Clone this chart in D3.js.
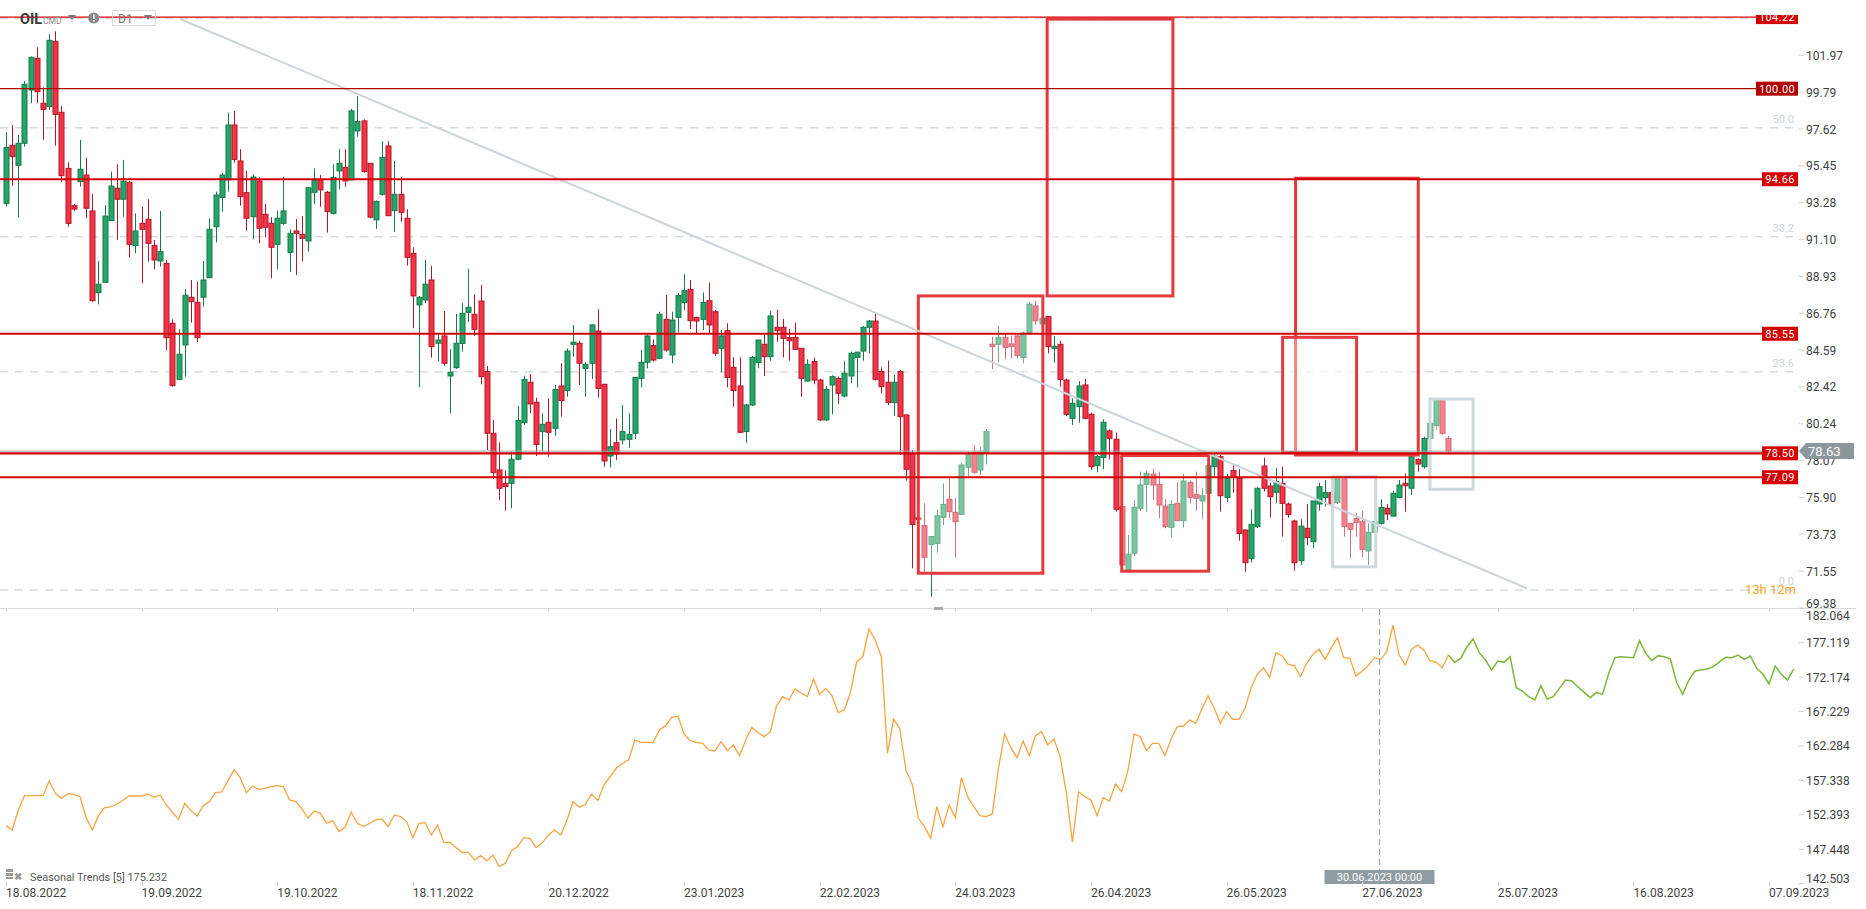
<!DOCTYPE html>
<html><head><meta charset="utf-8">
<script src="https://cdn.jsdelivr.net/npm/d3@7"></script>
<style>
html,body{margin:0;padding:0;background:#fff;overflow:hidden;}
svg{display:block;font-family:Roboto,"Noto Sans",sans-serif;}
</style></head><body>
<svg id="chart" width="1866" height="909"></svg>
<script>
// ---------------- DATA ----------------
const openP = [93.24,96.66,95.48,96.78,99.92,101.79,99.14,98.94,102.79,98.61,95.30,93.1,94.52,94.91,92.79,87.97,88.58,92.22,94.13,93.48,
94.48,90.75,92.06,92.30,90.75,89.84,89.70,86.17,82.86,84.89,87.70,87.40,87.70,88.86,91.86,93.58,94.62,97.86,95.74,93.87,
92.45,94.56,92.59,92.06,90.82,92.06,90.35,91.61,91.41,91.02,93.89,94.62,93.89,92.65,95.15,95.36,94.62,97.51,98.10,95.60,
92.26,93.77,96.62,92.81,93.77,92.36,90.29,87.25,87.54,88.72,84.99,85.42,83.06,83.55,84.98,86.81,86.70,87.48,83.32,79.68,
77.52,76.73,76.73,78.15,80.31,82.69,81.51,79.78,80.33,79.97,82.47,82.20,84.93,84.99,83.51,83.81,85.71,82.57,78.34,79.13,
79.29,79.33,79.68,82.92,83.87,84.85,84.10,86.40,84.30,86.52,87.40,88.17,86.52,86.40,87.50,86.85,84.69,85.73,83.57,82.47,
79.78,81.35,83.85,84.93,84.20,85.93,85.93,85.32,85.34,84.69,82.76,83.91,82.82,80.47,82.53,82.92,81.88,83.06,84.16,84.53,
85.93,86.30,83.32,82.69,81.49,83.32,80.76,78.44,74.7,74.24,73.13,73.19,74.73,75.79,75.02,74.90,77.68,78.54,77.52,78.54,
84.93,84.93,85.34,84.95,85.42,84.14,85.58,87.19,86.13,86.56,84.69,84.93,82.82,80.56,81.25,82.53,80.80,77.77,78.26,79.82,
79.33,75.36,71.62,72.61,75.26,76.67,77.28,76.67,75.39,74.14,75.55,74.53,76.79,76.08,75.69,76.14,77.71,78.30,75.90,77.48,
77.03,73.98,72.31,74.18,77.75,76.57,76.20,76.73,75.51,74.51,72.17,74.08,73.29,75.51,75.90,76.18,75.61,76.99,74.37,74.67,
74.47,72.74,73.84,74.37,75.26,74.80,75.90,76.73,76.44,78.14,77.71,79.38,80.13,81.64,79.38];
const highP = [97.43,97.86,97.27,100.45,101.9,102.44,100.08,103.22,103.38,98.98,95.66,93.2,96.98,95.91,93.79,89.84,93.14,95.11,95.54,95.80,
94.56,92.65,93.04,93.48,91.08,92.79,89.90,86.40,85.81,88.17,88.72,88.62,89.84,92.36,93.93,95.01,98.59,98.69,96.44,95.15,
94.95,94.77,93.20,92.42,92.81,94.81,91.71,92.32,92.49,94.2,95.30,94.91,93.97,95.54,96.44,96.44,98.80,99.57,98.19,95.6,
93.4,96.91,96.91,95.74,94.77,92.89,90.65,87.78,89.90,89.55,85.48,86.89,84.65,86.72,87.35,89.37,87.88,88.43,83.65,80.47,
79.15,77.48,78.60,81.29,83.08,83.18,81.78,80.86,81.74,82.53,83.81,84.69,86.07,85.14,83.87,86.1,86.99,82.6,79.94,80.56,
81.35,80.86,83.0,84.59,85.5,85.22,86.85,87.84,86.85,87.94,89.06,88.72,86.55,87.99,88.58,86.95,85.77,86.17,84.16,84.16,
81.41,84.24,85.2,85.48,86.89,86.95,86.42,85.83,86.20,84.7,84.04,84.14,82.9,82.47,83.1,83.02,83.96,84.50,84.5,86.0,
86.36,86.72,83.57,83.96,83.12,83.4,80.8,78.70,74.9,75.55,73.6,75.20,76.73,77.03,75.85,77.95,78.60,78.99,78.89,79.92,
85.38,86.01,85.48,85.44,85.54,85.67,87.44,87.48,86.6,86.6,85.42,85.12,82.9,81.74,82.76,82.88,80.9,78.4,80.50,79.9,
79.72,75.5,73.69,75.75,77.42,77.46,77.58,77.42,75.79,75.75,76.79,77.28,76.9,77.42,76.44,77.8,78.54,78.40,77.28,77.81,
77.56,74.0,75.20,76.5,78.24,76.77,77.65,77.71,75.6,74.6,74.61,75.51,75.7,76.77,76.93,76.2,77.0,77.0,74.4,74.96,
75.10,74.37,74.5,75.79,75.51,76.30,76.93,77.32,78.50,78.2,79.48,80.3,81.7,81.7,79.52];
const lowP = [93.04,94.28,92.40,96.58,99.14,99.14,96.98,98.74,96.64,94.48,91.87,92.8,94.22,92.36,87.44,87.29,88.58,92.22,91.08,92.45,
90.04,90.29,88.52,89.80,89.35,89.51,84.59,82.43,82.82,83.02,86.21,85.05,87.15,88.82,90.94,92.75,93.93,95.64,93.10,91.63,
91.12,90.88,91.24,88.82,89.35,91.96,89.21,89.01,89.80,90.39,93.20,93.04,91.51,92.59,94.07,94.22,94.6,97.17,95.05,92.36,
91.73,93.69,92.5,91.57,92.16,89.57,85.87,82.39,87.34,84.14,83.91,83.67,80.86,83.47,84.50,86.26,85.42,82.57,78.70,76.97,
75.75,75.12,75.26,78.1,80.17,80.86,78.34,78.64,78.30,79.54,80.66,81.84,84.2,82.53,81.84,82.88,81.78,77.72,77.66,78.11,
79.03,78.83,79.33,82.39,83.51,83.91,84.06,84.50,83.81,85.62,86.95,85.83,85.58,85.77,85.58,84.24,83.26,82.39,81.25,79.7,
79.13,81.29,83.51,83.06,83.96,85.08,84.16,83.96,84.6,81.84,82.73,82.57,80.4,80.4,80.80,81.41,81.8,82.63,82.39,83.96,
84.40,82.8,82.04,81.35,80.72,78.40,76.89,71.72,74.5,71.52,70.05,72.64,74.27,74.67,72.37,74.9,77.13,77.3,77.22,77.85,
83.47,83.87,84.04,84.1,84.10,83.81,85.5,86.07,86.0,84.40,83.85,82.43,80.7,80.17,80.31,80.5,77.52,77.38,77.56,78.15,
75.06,71.8,71.5,72.45,75.10,75.06,75.75,74.67,74.08,73.55,74.5,74.12,75.55,75.12,74.61,76.1,77.06,75.06,75.65,76.18,
73.35,71.52,72.05,74.1,76.24,74.71,75.55,73.59,74.71,71.58,71.92,73.09,72.90,75.12,75.36,75.4,75.51,73.59,72.31,73.59,
72.37,71.92,73.8,74.3,74.57,74.76,75.85,75.06,76.04,77.42,77.6,79.29,79.88,79.6,78.46];
const closeP = [96.54,95.99,96.78,100.26,101.85,99.82,98.78,102.85,98.49,94.87,92.06,92.9,95.25,92.95,87.50,88.47,92.49,94.26,93.48,94.54,
90.82,91.61,91.71,90.88,89.90,90.39,85.32,82.49,84.34,87.82,87.44,85.32,88.72,91.71,93.73,94.91,97.86,95.83,93.63,92.36,
94.79,91.77,91.83,90.65,92.36,92.79,91.47,91.47,91.18,94.16,94.62,94.03,92.75,94.77,95.60,94.56,98.69,98.06,95.11,92.42,
93.36,95.95,92.51,93.77,92.71,90.06,87.78,87.70,88.47,84.79,85.18,83.81,83.28,84.99,86.75,87.11,85.81,83.02,79.68,77.36,
76.44,76.54,78.15,80.43,82.86,81.41,79.03,80.21,79.74,82.27,81.61,84.53,85.05,83.81,83.75,86.07,82.33,78.05,78.89,78.46,
79.78,79.62,82.98,83.87,85.42,84.00,86.70,84.59,86.36,87.80,88.09,86.32,86.30,87.40,86.07,84.40,85.42,82.98,82.20,79.74,
81.35,84.16,85.18,84.20,86.60,85.73,85.28,85.14,84.63,82.92,83.75,82.82,80.47,82.27,83.02,82.04,83.22,84.40,84.46,85.93,
86.30,82.86,82.43,81.49,82.69,80.66,77.56,74.31,74.6,72.37,73.59,74.82,75.49,75.06,74.47,77.81,78.40,77.38,78.56,79.78,
84.79,85.34,84.75,84.79,84.26,85.58,87.30,86.32,86.46,84.79,84.81,82.86,80.80,81.45,82.47,80.56,77.71,78.30,80.33,79.39,
75.20,71.92,72.55,75.32,76.63,77.32,76.63,75.45,74.18,75.49,74.53,76.87,75.90,75.85,76.00,77.77,78.34,76.00,77.06,77.08,
73.78,72.05,74.31,76.44,76.44,75.94,76.83,75.55,74.90,72.05,74.21,73.53,75.69,76.53,76.18,75.51,76.99,74.18,74.02,74.41,
72.84,73.84,74.47,75.31,74.92,76.14,76.63,76.59,78.30,77.87,79.38,80.27,81.64,79.68,78.63];

const priceTicks = [69.38,71.55,73.73,75.90,78.07,80.24,82.42,84.59,86.76,88.93,91.10,93.28,95.45,97.62,99.79,101.97];
const levelValues = [104.22,100.00,94.66,85.55,78.50,77.09];
const levelLabels = ["104.22","100.00","94.66","85.55","78.50","77.09"];
const fibPercent = [0,23.6,38.2,50.0,61.8];
const fibLabels = ["0.0","23.6","38.2","50.0",""];
const fibZeroPrice = 70.44, fibHundredPrice = 124.96;
const currentPrice = 78.63;
const trendIdx = [28.23, 246.8];
const trendPrice = [104.11, 70.53];
// drawn boxes: [start bar, end bar, top price, bottom price]
const boxStart  = [168.9, 148.0, 181.0, 209.2, 207.1, 215.2, 231.0];
const boxEnd    = [189.3, 168.2, 195.1, 229.1, 219.1, 222.2, 238.0];
const boxTop    = [104.1, 87.78, 78.37, 94.72, 85.34, 77.12, 81.70];
const boxBottom = [87.78, 71.43, 71.55, 78.40, 78.54, 71.81, 76.38];
const boxKind   = ["red","red","red","red","red","grey","grey"];

const dateTickIdx = [0,22,44,66,88,110,132,154,176,198,220,242,264,286];
const dateLabels = ["18.08.2022","19.09.2022","19.10.2022","18.11.2022","20.12.2022","23.01.2023","22.02.2023",
  "24.03.2023","26.04.2023","26.05.2023","27.06.2023","25.07.2023","16.08.2023","07.09.2023"];

const seasonalTicks = [142.503,147.448,152.393,157.338,162.284,167.229,172.174,177.119,182.064];
const seasonalIdx = [0,1,2,3,4,5,6,7,8,9,10,11,12,13,14,15,16,17,18,19,20,22,23,24,25,26,27,28,29,30,
31,32,33,34,35,36,37,38,39,40,41,42,43,44,45,46,47,48,49,50,51,52,53,54,55,56,57,58,59,60,
61,62,63,64,65,66,67,68,69,70,71,72,73,74,75,76,77,78,79,80,81,82,83,84,85,86,87,88,89,90,
91,92,93,94,95,96,97,98,99,100,101,102,103,104,105,106,107,108,109,110,111,112,113,114,115,116,117,118,119,120,
121,122,123,124,125,126,127,128,129,130,131,132,133,134,135,136,137,138,139,140,141,142,143,144,145,146,147,148,149,150,
151,152,153,154,155,156,157,158,159,160,161,162,163,164,165,166,167,168,169,170,171,172,173,174,175,176,177,178,179,180,
181,182,183,184,185,186,187,188,189,190,191,192,193,194,195,196,197,198,199,200,201,202,203,204,205,206,207,208,209,210,
211,212,213,214,215,216,217,218,219,220,221,222,223,224,225,226,227,228,229,230,231,232,233,234,235,236,237,238,239,240,
241,242,243,244,245,246,247,248,249,250,251,252,253,254,255,256,257,258,259,260,261,262,264,265,266,267,268,269,270,
271,272,273,274,275,276,277,278,279,280,281,282,283,284,285,286,287,288,289,290];
const seasonalVal = [150.83,150.21,153.08,155.14,155.14,155.14,155.14,157.25,155.48,154.76,155.43,155.33,155.00,151.98,150.21,152.27,153.42,153.56,153.90,154.52,155.09,155.09,155.38,154.90,155.24,153.80,152.75,151.74,154.04,152.99,
152.22,153.71,154.28,155.57,155.67,157.30,158.88,157.73,155.57,156.53,156.05,156.20,156.44,156.58,156.44,154.52,154.28,153.23,151.89,152.94,152.60,151.17,151.55,149.97,150.59,152.75,151.17,150.69,151.17,151.65,
151.79,150.69,152.37,152.13,151.41,149.11,151.17,151.26,149.49,150.93,148.44,148.44,147.67,147.00,147.00,145.90,146.52,145.80,146.62,144.94,145.42,147.24,147.82,149.11,149.01,147.67,148.39,149.49,150.21,149.49,
151.65,154.28,153.47,153.90,155.38,154.42,156.67,157.87,159.07,159.79,160.27,163.14,162.81,162.81,162.81,164.58,165.20,166.40,166.59,164.00,163.05,162.81,162.66,161.70,161.56,162.90,161.61,162.42,160.89,163.14,
164.96,164.19,163.62,164.34,168.07,169.37,168.89,170.47,169.85,169.37,171.90,169.70,170.56,169.51,167.07,167.45,169.99,174.39,175.11,179.09,177.51,175.11,161.23,166.15,164.72,158.73,156.82,151.89,150.69,149.01,
153.56,150.69,153.80,151.98,157.73,155.00,153.56,152.27,152.13,152.51,159.07,164.00,162.04,160.60,163.00,160.89,163.76,164.34,162.42,163.28,160.75,155.62,148.44,155.72,155.00,154.52,152.27,154.86,154.38,156.82,
155.72,158.73,164.00,163.62,161.61,162.66,162.66,160.89,163.28,165.06,165.15,166.01,165.54,167.60,169.46,167.69,165.54,167.21,166.11,166.11,167.69,170.66,172.62,173.53,172.14,175.69,175.26,174.01,173.82,172.24,
174.16,175.45,176.17,174.73,176.41,177.84,174.97,174.87,172.33,173.05,173.82,174.97,174.73,175.83,179.66,175.35,173.92,176.17,176.79,176.07,174.54,174.30,173.53,175.35,174.30,174.87,176.55,177.65,175.69,174.63,
173.20,174.49,174.30,175.11,170.66,170.18,169.37,168.89,170.95,169.03,169.37,170.56,171.76,171.62,170.80,169.99,169.22,169.99,169.70,172.71,174.97,175.11,174.97,177.41,175.59,174.54,175.26,175.11,174.78,
171.43,169.70,171.76,173.05,173.20,173.34,173.68,174.39,175.02,174.97,175.35,174.73,175.21,173.44,172.62,171.19,173.77,172.57,171.76,173.34];
const lastBarIdx = 234;
const crosshairIdx = 222.7;
const crosshairLabel = "30.06.2023 00:00";
const legendText = "Seasonal  Trends  [5]  175.232";
const countdownText = "13h 12m";

// ---------------- SCALES ----------------
const svg = d3.select("#chart");
const x = d3.scaleLinear().domain([0, 286]).range([6, 1769]);
const y = d3.scaleLinear().domain([69.38, 101.97]).range([608.0, 55.26]);
const ys = d3.scaleLinear().domain([142.503, 182.064]).range([883.6, 608.3]);

const GREEN_F = "#26a46a", GREEN_S = "#157a48", RED_F = "#f23444", RED_S = "#b3172a";

const defs = svg.append("defs");
defs.append("clipPath").attr("id","plotclip")
  .append("rect").attr("x",0).attr("y",13).attr("width",1800).attr("height",595);
defs.append("clipPath").attr("id","labelclip")
  .append("rect").attr("x",0).attr("y",15).attr("width",1800).attr("height",593);

const plot = svg.append("g").attr("clip-path","url(#plotclip)");

// fib dashed lines
const fibPrice = p => fibZeroPrice + (fibHundredPrice - fibZeroPrice) * p / 100;
plot.selectAll(".fib").data(fibPercent).enter().append("line")
  .attr("x1",0).attr("x2",1797)
  .attr("y1",d=>y(fibPrice(d))).attr("y2",d=>y(fibPrice(d)))
  .attr("stroke","#d3dce1").attr("stroke-width",1.6).attr("stroke-dasharray","8,7");

// candles
const candles = d3.range(openP.length).map(i=>({i,o:openP[i],h:highP[i],l:lowP[i],c:closeP[i]}));
const cg = plot.append("g");
candles.forEach(d=>{
  const up = d.c >= d.o;
  const cx = Math.round(x(d.i)) + 0.5;
  cg.append("line").attr("x1",cx).attr("x2",cx).attr("y1",y(d.h)).attr("y2",y(d.l))
    .attr("stroke", up?GREEN_S:RED_S).attr("stroke-width",1);
  const top = y(Math.max(d.o,d.c)), bot = y(Math.min(d.o,d.c));
  cg.append("rect").attr("x",cx-2.5).attr("width",5).attr("y",top).attr("height",Math.max(1,bot-top))
    .attr("fill", up?GREEN_F:RED_F).attr("stroke", up?GREEN_S:RED_S).attr("stroke-width",1);
});

// boxes
boxStart.forEach((s,k)=>{
  const x0 = x(s), x1 = x(boxEnd[k]), y0 = y(boxTop[k]), y1 = y(boxBottom[k]);
  plot.append("rect").attr("x",x0).attr("y",y0).attr("width",x1-x0).attr("height",y1-y0)
    .attr("fill","rgba(255,255,255,0.38)")
    .attr("stroke", boxKind[k]==="red" ? "#e5393b" : "#cfd8dc").attr("stroke-width",3);
});

// trend line
plot.append("line").attr("x1",x(trendIdx[0])).attr("y1",y(trendPrice[0]))
  .attr("x2",x(trendIdx[1])).attr("y2",y(trendPrice[1]))
  .attr("stroke","#cbd5da").attr("stroke-width",2);

// current price line
plot.append("line").attr("x1",0).attr("x2",1799).attr("y1",y(currentPrice)).attr("y2",y(currentPrice))
  .attr("stroke","#9aa4a9").attr("stroke-width",1);

// level lines
levelValues.forEach((v,k)=>{
  const dark = k===1, thin = k<=1;
  const w = levelLabels[k].length>5 ? 42 : 36;
  plot.append("line").attr("x1",0).attr("x2",1798-w).attr("y1",y(v)).attr("y2",y(v))
    .attr("stroke", dark ? "#b00000" : "#d40000").attr("stroke-width", thin?1.3:2.2);
});

// fib labels
plot.selectAll(".fibl").data(fibPercent.filter((d,i)=>fibLabels[i])).enter().append("text")
  .attr("x",1794).attr("y",d=>y(fibPrice(d))-5).attr("text-anchor","end")
  .attr("font-size",11).attr("fill","#cdd5da").text(d=>fibLabels[fibPercent.indexOf(d)]);

// countdown
svg.append("text").attr("x",1796).attr("y",y(fibPrice(0))+4).attr("text-anchor","end")
  .attr("font-size",13).attr("fill","#f5a525").text(countdownText);

// level labels
const lg = svg.append("g").attr("clip-path","url(#labelclip)");
levelValues.forEach((v,k)=>{
  const w = levelLabels[k].length>5 ? 42 : 36;
  const col = k===1 ? "#b00000" : "#d40000";
  lg.append("rect").attr("x",1798-w).attr("y",y(v)-7).attr("width",w).attr("height",14).attr("fill",col);
  lg.append("text").attr("x",1798-w/2).attr("y",y(v)+4).attr("text-anchor","middle")
    .attr("font-size",11).attr("fill","#fff").attr("letter-spacing",0.4).text(levelLabels[k]);
});

// price axis
priceTicks.forEach(t=>{
  const yy = Math.min(y(t), 603);
  svg.append("line").attr("x1",1799).attr("x2",1804).attr("y1",y(t)).attr("y2",y(t)).attr("stroke","#d0d0d0");
  svg.append("text").attr("x",1806).attr("y",yy+4.5).attr("font-size",12).attr("fill","#3f3f3f")
    .text(t.toFixed(2));
});

// current price label
const cy = y(currentPrice);
svg.append("path").attr("d",`M1799,${cy} L1806,${cy-8} L1854,${cy-8} L1854,${cy+8} L1806,${cy+8} Z`).attr("fill","#8c979c");
svg.append("text").attr("x",1808).attr("y",cy+5).attr("font-size",13).attr("fill","#fff").text(currentPrice.toFixed(2));

// separator
svg.append("line").attr("x1",0).attr("x2",1856).attr("y1",608.5).attr("y2",608.5).attr("stroke","#dcdcdc");
svg.append("rect").attr("x",934).attr("y",607).attr("width",9).attr("height",3).attr("fill","#a9a9a9");

// seasonal axis
seasonalTicks.forEach(t=>{
  const yy = Math.max(615, Math.min(ys(t), 878));
  svg.append("line").attr("x1",1799).attr("x2",1804).attr("y1",ys(t)).attr("y2",ys(t)).attr("stroke","#d0d0d0");
  svg.append("text").attr("x",1806).attr("y",yy+4.5).attr("font-size",12).attr("fill","#3f3f3f").text(t.toFixed(3));
});

// seasonal line
const sPts = seasonalIdx.map((d,i)=>({i:d,v:seasonalVal[i]}));
const sLine = d3.line().x(d=>x(d.i)).y(d=>ys(d.v));
svg.append("path").datum(sPts.filter(d=>d.i<=lastBarIdx)).attr("d",sLine)
  .attr("fill","none").attr("stroke","#f7a440").attr("stroke-width",1.3);
svg.append("path").datum(sPts.filter(d=>d.i>=lastBarIdx)).attr("d",sLine)
  .attr("fill","none").attr("stroke","#7cb73b").attr("stroke-width",1.5);

// crosshair
const chx = Math.round(x(crosshairIdx))+0.5;
svg.append("line").attr("x1",chx).attr("x2",chx).attr("y1",609).attr("y2",870)
  .attr("stroke","#8f9aa0").attr("stroke-dasharray","6,4");
svg.append("rect").attr("x",chx-55).attr("y",870).attr("width",110).attr("height",14).attr("fill","#8f9da3");
svg.append("text").attr("x",chx).attr("y",881).attr("text-anchor","middle").attr("font-size",11)
  .attr("fill","#fff").text(crosshairLabel);

// date axis
dateTickIdx.forEach((d,k)=>{
  const xx = Math.round(x(d))+0.5;
  svg.append("line").attr("x1",xx).attr("x2",xx).attr("y1",609).attr("y2",612).attr("stroke","#d6d6d6");
  svg.append("line").attr("x1",xx).attr("x2",xx).attr("y1",882).attr("y2",886).attr("stroke","#d6d6d6");
  svg.append("text").attr("x",x(d)).attr("y",897).attr("font-size",12).attr("fill","#3f3f3f").text(dateLabels[k]);
});

// legend
const lgd = svg.append("g");
lgd.append("rect").attr("x",6).attr("y",869).attr("width",7).attr("height",3).attr("fill","#9a9a9a");
lgd.append("rect").attr("x",6).attr("y",873).attr("width",7).attr("height",3).attr("fill","#9a9a9a");
lgd.append("rect").attr("x",6).attr("y",877).attr("width",7).attr("height",2).attr("fill","#9a9a9a");
lgd.append("text").attr("x",14).attr("y",880).attr("font-size",10).attr("fill","#9a9a9a").attr("font-weight","bold").text("✖");
lgd.append("text").attr("x",30).attr("y",880.5).attr("font-size",11).attr("fill","#555")
  .attr("textLength",137).attr("lengthAdjust","spacingAndGlyphs").text(legendText);

// header
const hd = svg.append("g");
hd.append("text").attr("x",20).attr("y",24).attr("font-size",14.5).attr("font-weight",700).attr("fill","#3a3a3a").text("OIL");
hd.append("text").attr("x",43).attr("y",24).attr("font-size",8.5).attr("fill","#8a8a8a").text("CMD");
hd.append("path").attr("d","M68,15 L76,15 L72,20 Z").attr("fill","#7a7a7a");
hd.append("circle").attr("cx",93.7).attr("cy",18).attr("r",5.6).attr("fill","#8a8a8a");
hd.append("rect").attr("x",93).attr("y",14.5).attr("width",1.6).attr("height",4.5).attr("fill","#fff");
hd.append("rect").attr("x",93).attr("y",20).attr("width",1.6).attr("height",1.5).attr("fill","#fff");
hd.append("rect").attr("x",112.5).attr("y",10.5).attr("width",43).attr("height",15).attr("fill","none").attr("stroke","#dedede");
hd.append("text").attr("x",118).attr("y",23).attr("font-size",12).attr("fill","#777").text("D1");
hd.append("path").attr("d","M144,15 L152,15 L148,20 Z").attr("fill","#7a7a7a");
</script>
</body></html>
